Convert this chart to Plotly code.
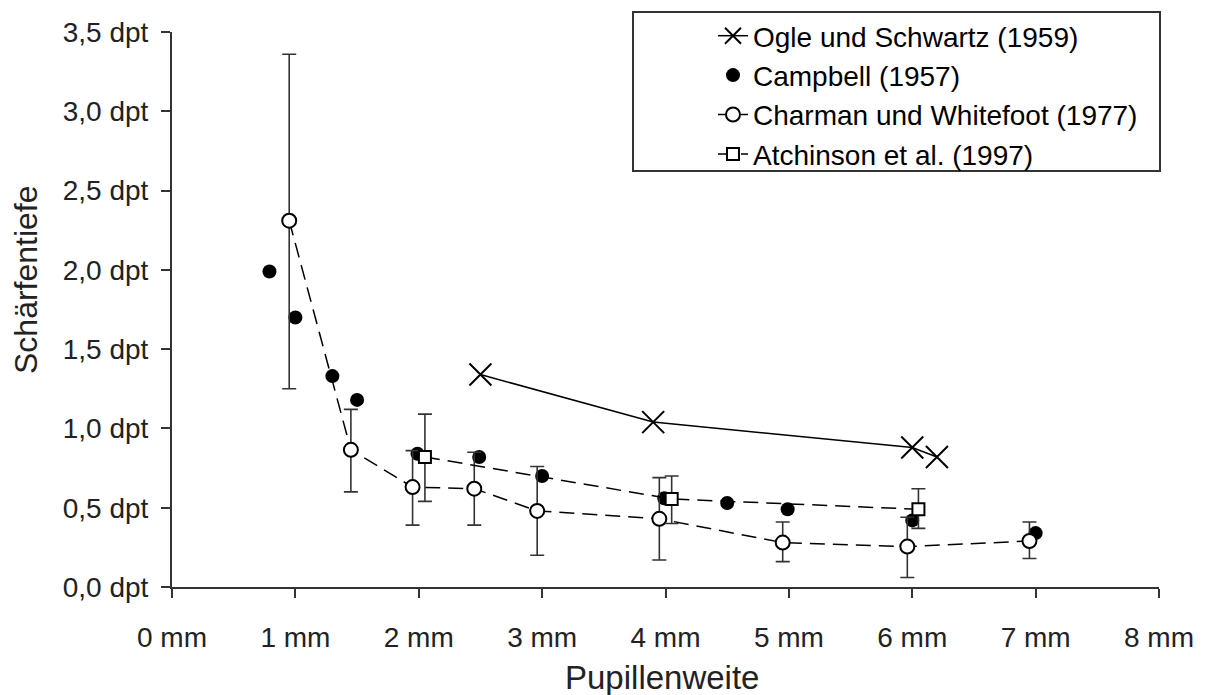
import plotly.graph_objects as go

# ---------------- data ----------------
x_tickvals = [0, 1, 2, 3, 4, 5, 6, 7, 8]
x_ticktext = ["0 mm", "1 mm", "2 mm", "3 mm", "4 mm", "5 mm", "6 mm", "7 mm", "8 mm"]
y_tickvals = [0, 0.5, 1.0, 1.5, 2.0, 2.5, 3.0, 3.5]
y_ticktext = ["0,0 dpt", "0,5 dpt", "1,0 dpt", "1,5 dpt", "2,0 dpt", "2,5 dpt", "3,0 dpt", "3,5 dpt"]

ogle_x = [2.50, 3.90, 6.00, 6.20]
ogle_y = [1.34, 1.04, 0.88, 0.82]

campbell_x = [0.79, 1.00, 1.30, 1.50, 1.99, 2.49, 3.00, 3.99, 4.50, 4.99, 6.00, 7.00]
campbell_y = [1.99, 1.70, 1.33, 1.18, 0.84, 0.82, 0.70, 0.56, 0.53, 0.49, 0.42, 0.34]

charman_x = [0.95, 1.45, 1.95, 2.45, 2.96, 3.95, 4.95, 5.96, 6.95]
charman_y = [2.31, 0.865, 0.63, 0.62, 0.48, 0.43, 0.28, 0.255, 0.29]
charman_hi = [3.36, 1.12, 0.86, 0.85, 0.76, 0.69, 0.41, 0.44, 0.41]
charman_lo = [1.25, 0.60, 0.39, 0.39, 0.20, 0.17, 0.16, 0.06, 0.18]

atch_x = [2.05, 4.05, 6.05]
atch_y = [0.82, 0.555, 0.49]
atch_hi = [1.09, 0.70, 0.62]
atch_lo = [0.54, 0.40, 0.37]

names = ["Ogle und Schwartz (1959)", "Campbell (1957)",
         "Charman und Whitefoot (1977)", "Atchinson et al. (1997)"]

# ---------------- styling ----------------
FONT = "Liberation Sans, Arial, Helvetica, sans-serif"
INK = "#222222"
AX = "#333333"
DASH = "15px,8px"

fig = go.Figure()

fig.add_trace(go.Scatter(
    x=campbell_x, y=campbell_y, mode="markers", name=names[1],
    legendrank=2, legendgroup="b",
    marker=dict(symbol="circle", size=14, color="black", line=dict(width=0)),
))

fig.add_trace(go.Scatter(
    x=charman_x, y=charman_y, mode="lines+markers", name=names[2],
    legendrank=3, legendgroup="c",
    line=dict(color="black", width=1.5, dash=DASH),
    marker=dict(symbol="circle", size=14, color="white", line=dict(color="black", width=2)),
    error_y=dict(type="data", symmetric=False,
                 array=[h - v for h, v in zip(charman_hi, charman_y)],
                 arrayminus=[v - l for l, v in zip(charman_lo, charman_y)],
                 color=AX, thickness=1.6, width=7),
))

fig.add_trace(go.Scatter(
    x=atch_x, y=atch_y, mode="lines+markers", name=names[3],
    legendrank=4, legendgroup="d",
    line=dict(color="black", width=1.5, dash=DASH),
    marker=dict(symbol="square", size=12, color="white", line=dict(color="black", width=2)),
    error_y=dict(type="data", symmetric=False,
                 array=[h - v for h, v in zip(atch_hi, atch_y)],
                 arrayminus=[v - l for l, v in zip(atch_lo, atch_y)],
                 color=AX, thickness=1.6, width=7),
))

fig.add_trace(go.Scatter(
    x=ogle_x, y=ogle_y, mode="lines+markers", name=names[0],
    legendrank=1, legendgroup="a",
    line=dict(color="black", width=1.5),
    marker=dict(symbol="x-thin", size=22, color="black", line=dict(color="black", width=2)),
))

# plot area in pixels: x 172..1159, y 32..587
L, R, T, B = 172, 48, 32, 108
W, H = 1207, 695
pw, ph = W - L - R, H - T - B

def px_x(p):
    return (p - L) / pw

def px_y(p):
    return 1 - (p - T) / ph

axis_common = dict(
    showline=True, linecolor=AX, linewidth=2,
    ticks="outside", ticklen=9, tickwidth=2, tickcolor=AX,
    showgrid=False, zeroline=False,
    tickfont=dict(family=FONT, size=28, color=INK),
)

fig.update_layout(
    width=W, height=H,
    margin=dict(l=L, r=R, t=T, b=B, autoexpand=False),
    paper_bgcolor="white", plot_bgcolor="white",
    font=dict(family=FONT, color=INK),
    xaxis=dict(range=[0, 8], tickmode="array", tickvals=x_tickvals, ticktext=x_ticktext,
               ticklabelstandoff=15, **axis_common),
    yaxis=dict(range=[0, 3.5], tickmode="array", tickvals=y_tickvals, ticktext=y_ticktext,
               ticklabelstandoff=7, **axis_common),
    showlegend=True,
    legend=dict(
        x=px_x(713), y=px_y(11), xanchor="left", yanchor="top",
        bgcolor="rgba(0,0,0,0)", borderwidth=0,
        font=dict(family=FONT, size=28, color="black"),
        tracegroupgap=0, itemwidth=30,
    ),
    annotations=[
        dict(text="Pupillenweite", xref="paper", yref="paper",
             x=px_x(662), y=px_y(677), xanchor="center", yanchor="middle",
             showarrow=False, font=dict(family=FONT, size=33, color=INK)),
        dict(text="Schärfentiefe", xref="paper", yref="paper",
             x=px_x(26), y=px_y(280), xanchor="center", yanchor="middle", textangle=-90,
             showarrow=False, font=dict(family=FONT, size=32, color=INK)),
    ],
    shapes=[
        dict(type="rect", xref="paper", yref="paper",
             x0=px_x(633), x1=px_x(1160), y0=px_y(171), y1=px_y(12),
             line=dict(color=AX, width=2), fillcolor="rgba(0,0,0,0)", layer="above"),
    ],
)

fig.write_html("out.html")
